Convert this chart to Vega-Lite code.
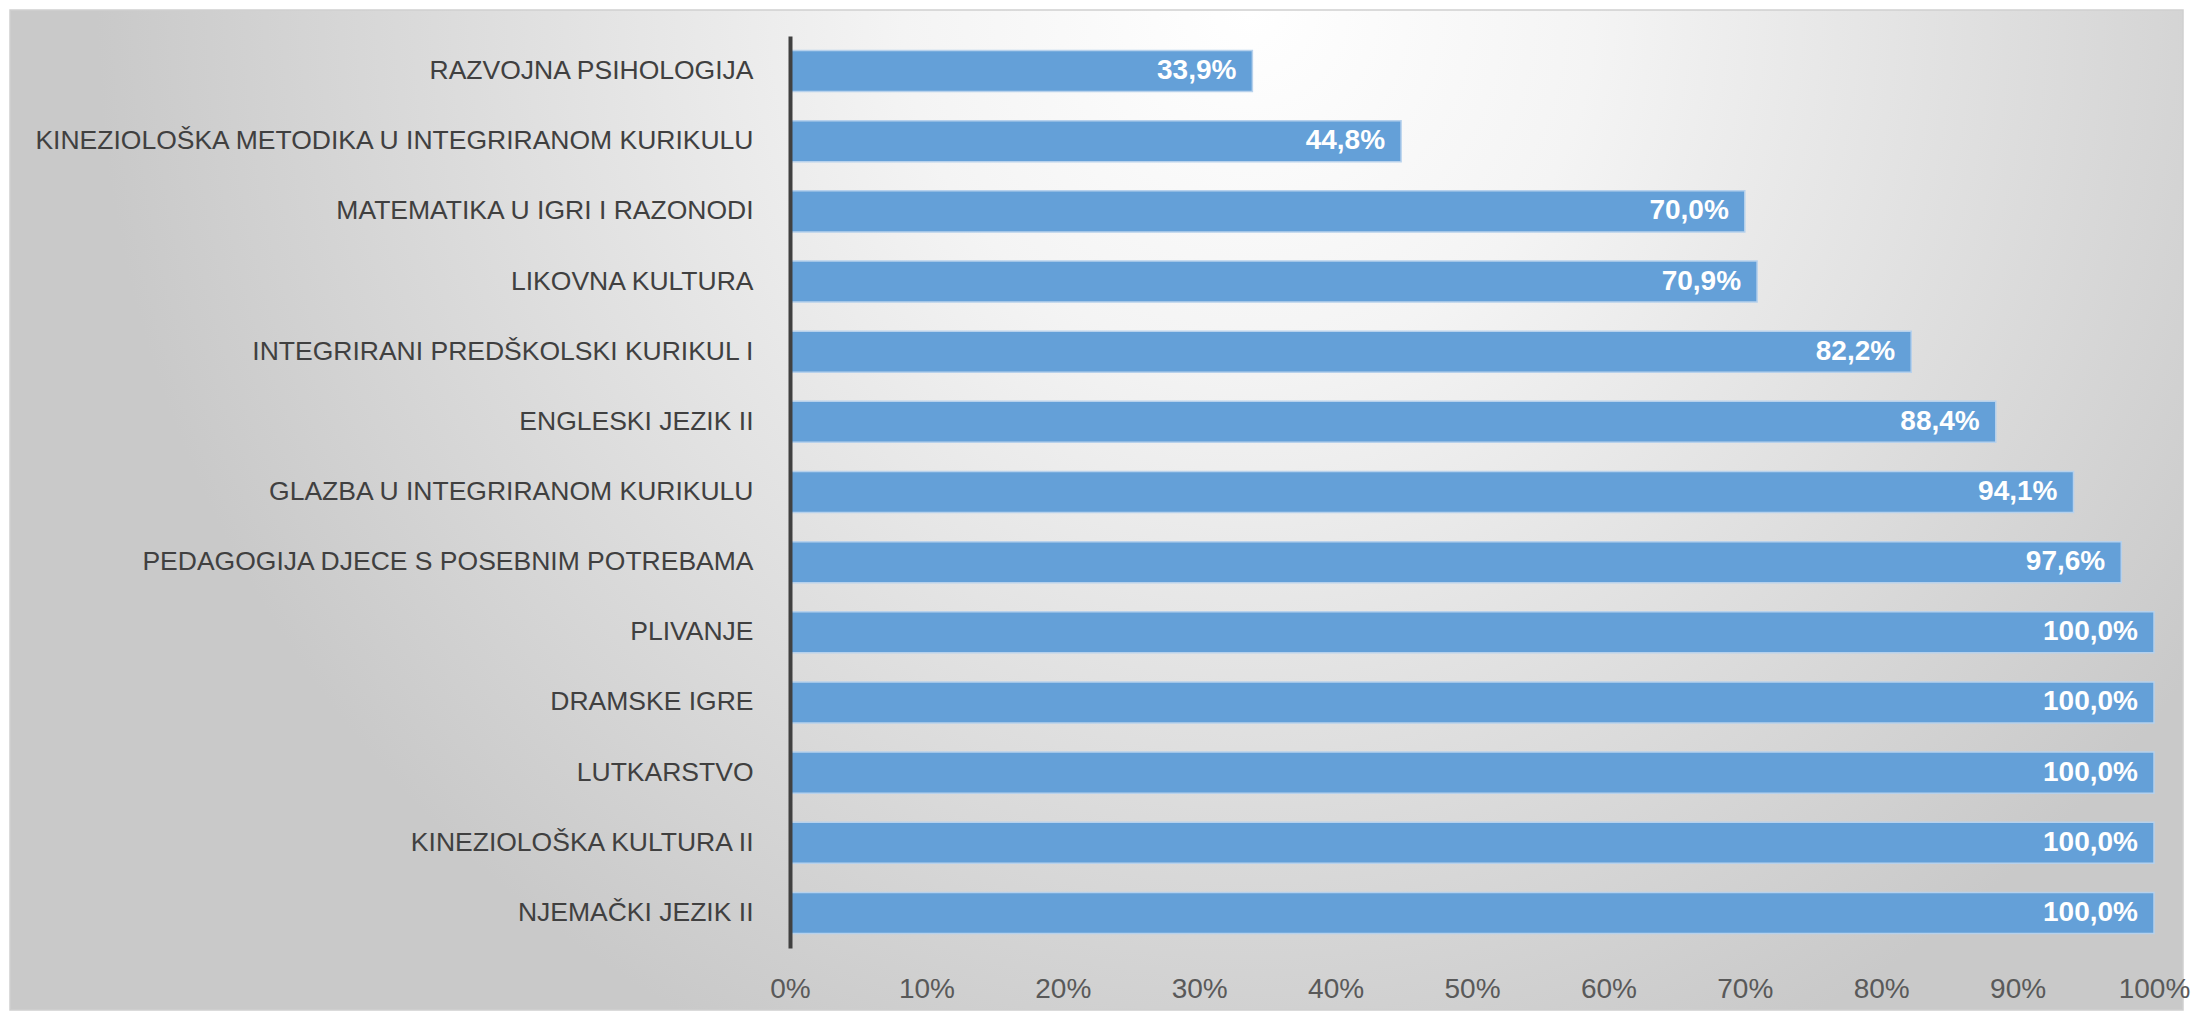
{
  "$schema": "https://vega.github.io/schema/vega-lite/v6.json",
  "width": 2173,
  "height": 1000,
  "autosize": {"type": "none"},
  "padding": {"left": 10, "top": 10, "right": 10, "bottom": 10},
  "background": "#ffffff",
  "data": {
    "values": [
      {"predmet": "RAZVOJNA PSIHOLOGIJA", "udio": 0.339},
      {"predmet": "KINEZIOLOŠKA METODIKA U INTEGRIRANOM KURIKULU", "udio": 0.448},
      {"predmet": "MATEMATIKA U IGRI I RAZONODI", "udio": 0.700},
      {"predmet": "LIKOVNA KULTURA", "udio": 0.709},
      {"predmet": "INTEGRIRANI PREDŠKOLSKI KURIKUL I", "udio": 0.822},
      {"predmet": "ENGLESKI JEZIK II", "udio": 0.884},
      {"predmet": "GLAZBA U INTEGRIRANOM KURIKULU", "udio": 0.941},
      {"predmet": "PEDAGOGIJA DJECE S POSEBNIM POTREBAMA", "udio": 0.976},
      {"predmet": "PLIVANJE", "udio": 1.0},
      {"predmet": "DRAMSKE IGRE", "udio": 1.0},
      {"predmet": "LUTKARSTVO", "udio": 1.0},
      {"predmet": "KINEZIOLOŠKA KULTURA II", "udio": 1.0},
      {"predmet": "NJEMAČKI JEZIK II", "udio": 1.0}
    ]
  },
  "encoding": {
    "y": {
      "field": "predmet",
      "type": "nominal",
      "sort": null,
      "scale": {"range": [26, 938], "paddingInner": 0.415, "paddingOuter": 0.2075},
      "axis": {
        "title": null,
        "orient": "left",
        "offset": -780,
        "zindex": 1,
        "domain": true,
        "domainColor": "#404040",
        "domainWidth": 4,
        "ticks": false,
        "grid": false,
        "labelPadding": 37,
        "labelFontSize": 26.5,
        "labelFont": "Liberation Sans",
        "labelColor": "#404040",
        "labelLimit": 2000
      }
    },
    "x": {
      "field": "udio",
      "type": "quantitative",
      "scale": {"domain": [0, 1], "range": [780, 2144], "nice": false},
      "axis": {
        "title": null,
        "orient": "bottom",
        "offset": -62,
        "values": [0, 0.1, 0.2, 0.3, 0.4, 0.5, 0.6, 0.7, 0.8, 0.9, 1.0],
        "format": ".0%",
        "domain": false,
        "ticks": false,
        "grid": false,
        "labelPadding": 27,
        "labelFontSize": 28,
        "labelFont": "Liberation Sans",
        "labelColor": "#595959",
        "labelFlush": false
      }
    }
  },
  "layer": [
    {
      "mark": {"type": "bar", "color": "#64a0d8", "stroke": "#b7d1ec", "strokeWidth": 1.5}
    },
    {
      "mark": {
        "type": "text",
        "align": "right",
        "baseline": "middle",
        "dx": -16,
        "font": "Liberation Sans",
        "fontWeight": "bold",
        "fontSize": 28,
        "color": "#ffffff"
      },
      "encoding": {
        "text": {"field": "udio", "type": "quantitative", "format": ".1%"}
      }
    }
  ],
  "config": {
    "locale": {
      "number": {
        "decimal": ",",
        "thousands": ".",
        "grouping": [3],
        "currency": ["", " kn"]
      }
    },
    "view": {
      "stroke": "#cfcfcf",
      "strokeWidth": 1.5,
      "fill": {
        "gradient": "radial",
        "x1": 0.57, "y1": 0.27, "r1": 0,
        "x2": 0.57, "y2": 0.27, "r2": 0.53,
        "stops": [
          {"offset": 0, "color": "#ffffff"},
          {"offset": 0.3, "color": "#f4f4f4"},
          {"offset": 1, "color": "#c9c9c9"}
        ]
      }
    }
  }
}
